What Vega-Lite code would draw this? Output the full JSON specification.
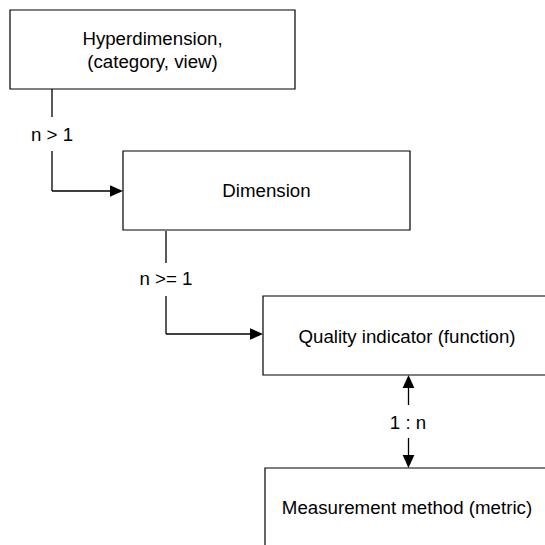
{
  "$schema": "https://vega.github.io/schema/vega-lite/v6.json",
  "width": 545,
  "height": 545,
  "autosize": {"type": "fit", "contains": "padding"},
  "padding": 0,
  "background": "white",
  "config": {"view": {"stroke": null}},
  "datasets": {
    "boxes": [
      {"x": 10, "x2": 295, "y": 10, "y2": 89},
      {"x": 123, "x2": 410, "y": 151, "y2": 230},
      {"x": 263, "x2": 550, "y": 296, "y2": 375},
      {"x": 265, "x2": 552, "y": 468, "y2": 548}
    ],
    "lines": [
      {"x": 52, "y": 89, "x2": 52, "y2": 117},
      {"x": 52, "y": 151, "x2": 52, "y2": 191},
      {"x": 52, "y": 191, "x2": 111, "y2": 191},
      {"x": 166, "y": 231, "x2": 166, "y2": 263},
      {"x": 166, "y": 296, "x2": 166, "y2": 334},
      {"x": 166, "y": 334, "x2": 251, "y2": 334},
      {"x": 408.5, "y": 388, "x2": 408.5, "y2": 405},
      {"x": 408.5, "y": 438, "x2": 408.5, "y2": 456}
    ],
    "heads": [
      {"x": 116.5, "y": 191, "dir": "right"},
      {"x": 256.5, "y": 334, "dir": "right"},
      {"x": 408.5, "y": 381.5, "dir": "up"},
      {"x": 408.5, "y": 461.5, "dir": "down"}
    ],
    "labels": [
      {"x": 152.5, "y": 39, "text": "Hyperdimension,", "size": 18.7},
      {"x": 152.5, "y": 62, "text": "(category, view)", "size": 18.7},
      {"x": 266.5, "y": 191, "text": "Dimension", "size": 18.7},
      {"x": 407, "y": 337, "text": "Quality indicator (function)", "size": 18.7},
      {"x": 407, "y": 508, "text": "Measurement method (metric)", "size": 18.7},
      {"x": 52, "y": 135, "text": "n > 1", "size": 18.7},
      {"x": 166, "y": 279, "text": "n >= 1", "size": 18.7},
      {"x": 408, "y": 423, "text": "1 : n", "size": 18.7}
    ]
  },
  "encoding": {
    "x": {"field": "x", "type": "quantitative", "scale": {"domain": [0, 545], "nice": false, "zero": false}, "axis": null},
    "y": {"field": "y", "type": "quantitative", "scale": {"domain": [0, 545], "nice": false, "zero": false, "reverse": true}, "axis": null}
  },
  "layer": [
    {
      "data": {"name": "boxes"},
      "mark": {"type": "rect", "fill": "white", "stroke": "black", "strokeWidth": 1.2, "clip": true},
      "encoding": {"x2": {"field": "x2"}, "y2": {"field": "y2"}}
    },
    {
      "data": {"name": "lines"},
      "mark": {"type": "rule", "stroke": "black", "strokeWidth": 1.3},
      "encoding": {"x2": {"field": "x2"}, "y2": {"field": "y2"}}
    },
    {
      "data": {"name": "heads"},
      "mark": {"type": "point", "filled": true, "color": "black", "size": 169, "opacity": 1, "strokeWidth": 0},
      "encoding": {
        "shape": {
          "field": "dir",
          "type": "nominal",
          "scale": {"domain": ["right", "up", "down"], "range": ["M1,0L-1,-0.9L-1,0.9Z", "M0,-1L-0.9,1L0.9,1Z", "M0,1L-0.9,-1L0.9,-1Z"]},
          "legend": null
        }
      }
    },
    {
      "data": {"name": "labels"},
      "mark": {"type": "text", "font": "Liberation Sans", "color": "black", "align": "center", "baseline": "middle"},
      "encoding": {
        "text": {"field": "text"},
        "size": {"field": "size", "type": "quantitative", "scale": null}
      }
    }
  ]
}
